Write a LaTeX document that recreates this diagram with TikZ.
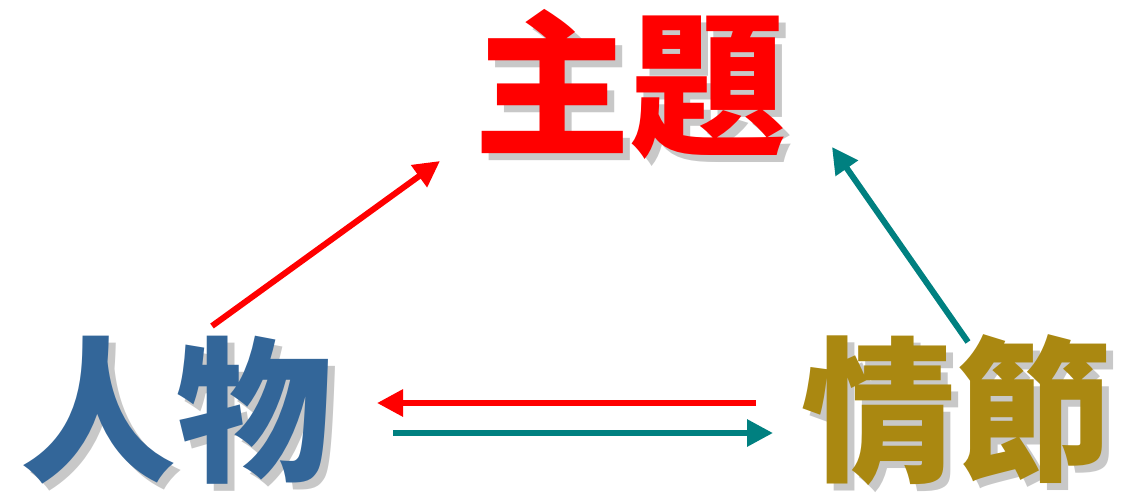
\documentclass[tikz,border=0pt]{standalone}
\usepackage{fontspec}
\newfontfamily\cjk{Noto Sans CJK TC}
\usetikzlibrary{arrows.meta}
\definecolor{tred}{RGB}{255,0,0}
\definecolor{tblue}{RGB}{51,102,153}
\definecolor{tgold}{RGB}{170,136,17}
\definecolor{tteal}{RGB}{0,128,128}
\definecolor{tshadow}{RGB}{200,200,200}
\newcommand{\shadowtext}[1]{\makebox[0pt][l]{\hspace{7pt}\raisebox{-7pt}{\textcolor{tshadow}{#1}}}#1}
\tikzset{
  word/.style={font=\cjk\bfseries\fontsize{156}{156}\selectfont, inner sep=0pt},
  arr/.style={line width=6pt, -{Triangle[length=26pt,width=26pt]}},
}
\begin{document}
\begin{tikzpicture}[x=1pt,y=-1pt]
\useasboundingbox (0,0) rectangle (1124,499);
% words with drop shadows
\node[word, text=tred] (zhuti) at (630,88) {\shadowtext{主題}};
\node[word, text=tblue] (renwu) at (176,414) {\shadowtext{人物}};
\node[word, text=tgold] (qingjie) at (956,414) {\shadowtext{情節}};
% connector ends
\coordinate (a1) at (212,326);
\coordinate (a2) at (440,161);
\coordinate (b1) at (968,342);
\coordinate (b2) at (832,147);
\coordinate (c1) at (756,403);
\coordinate (c2) at (377,403);
\coordinate (d1) at (393,433);
\coordinate (d2) at (773,433);
\draw[arr, tred] (a1) -- (a2);
\draw[arr, tteal] (b1) -- (b2);
\draw[arr, tred] (c1) -- (c2);
\draw[arr, tteal] (d1) -- (d2);
\end{tikzpicture}
\end{document}
